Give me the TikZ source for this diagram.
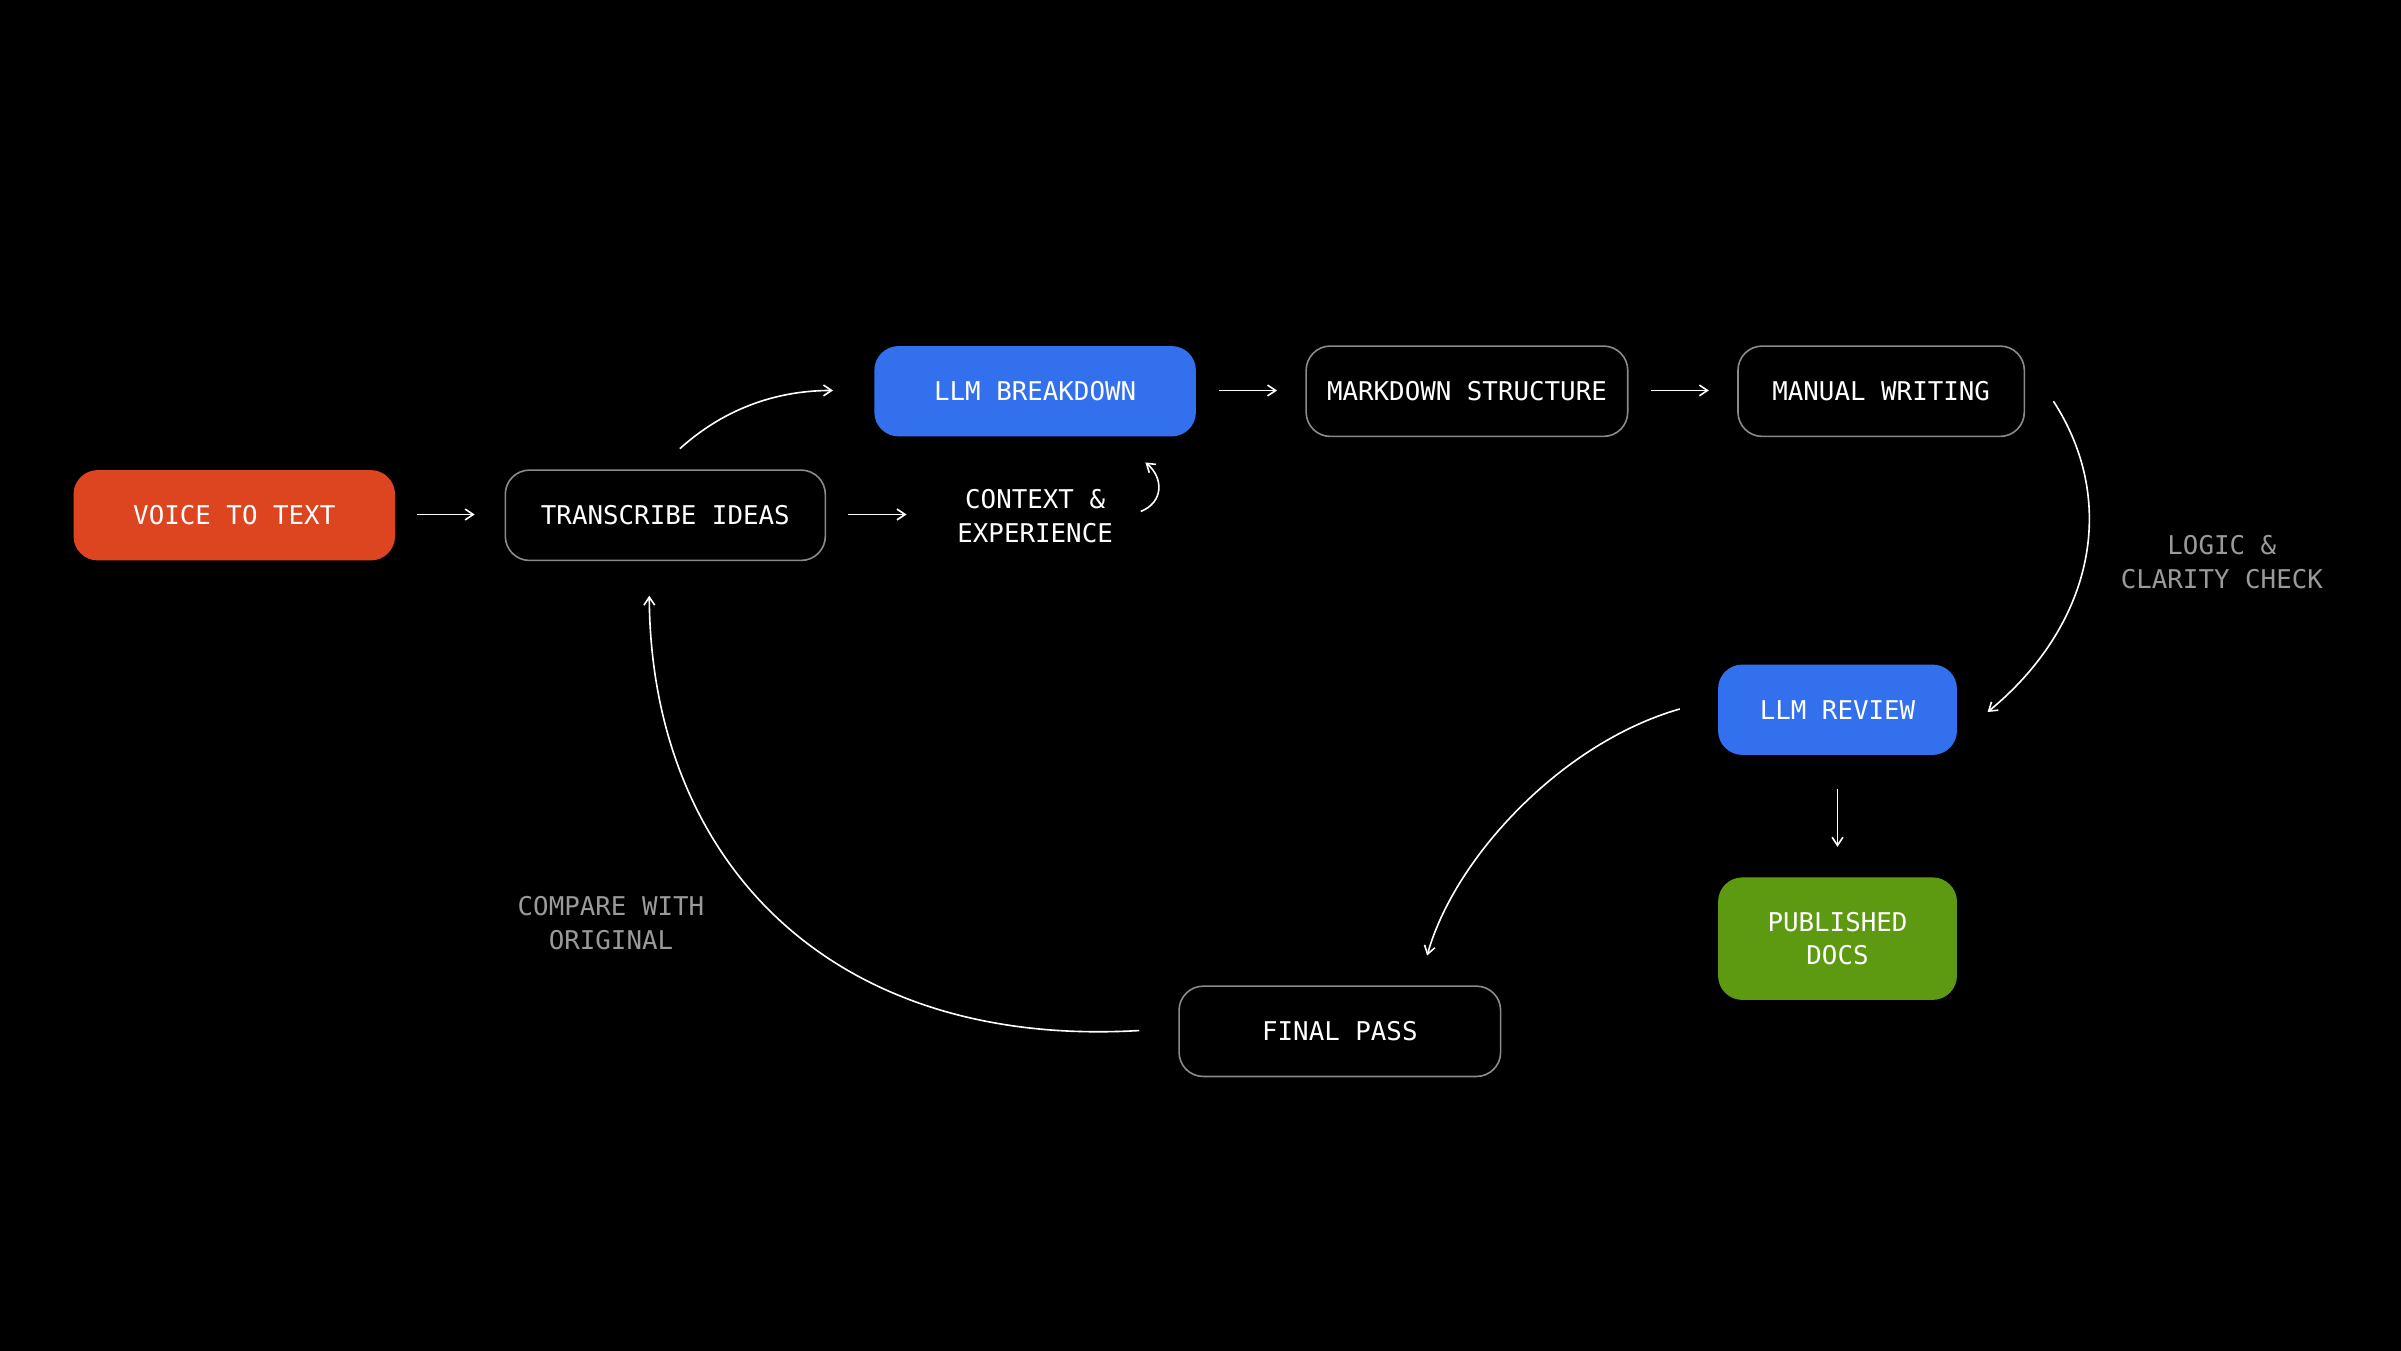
\documentclass[tikz,border=0pt]{standalone}
\usepackage{fontspec}
\setmonofont{DejaVu Sans Mono}
\usetikzlibrary{arrows.meta}
\definecolor{bgc}{HTML}{000000}
\definecolor{orng}{HTML}{DD4420}
\definecolor{blu}{HTML}{3370EE}
\definecolor{grn}{HTML}{5E9912}
\definecolor{edge}{HTML}{8A8A8A}
\definecolor{lbl}{HTML}{9A9A9A}
\tikzset{
  box/.style={rounded corners=9pt, minimum height=59*0.02cm, text=white, font=\ttfamily\fontsize{9.6}{12}\selectfont, align=center, inner sep=0pt},
  outl/.style={box, draw=edge, line width=0.6pt, fill=black},
  filled/.style={box},
  lab/.style={font=\ttfamily\fontsize{9.6}{12.5}\selectfont, align=center},
  con/.style={draw=white, line width=0.6pt, -{Straight Barb[length=3pt,width=4pt]}}
}
\begin{document}
\begin{tikzpicture}[x=0.02cm,y=-0.02cm]
\fill[black] (0,0) rectangle (1568,882);
\useasboundingbox (0,0) rectangle (1568,882);
\node[filled, fill=orng, minimum width=210*0.02cm] (voice) at (153,336.5) {VOICE TO TEXT};
\node[outl, minimum width=209*0.02cm] (trans) at (434.5,336.5) {TRANSCRIBE IDEAS};
\node[filled, fill=blu, minimum width=210*0.02cm] (llmb) at (676,255.5) {LLM BREAKDOWN};
\node[outl, minimum width=210*0.02cm] (md) at (958,255.5) {MARKDOWN STRUCTURE};
\node[outl, minimum width=187*0.02cm] (man) at (1228.5,255.5) {MANUAL WRITING};
\node[filled, fill=blu, minimum width=156*0.02cm] (llmr) at (1200,463.5) {LLM REVIEW};
\node[filled, fill=grn, minimum width=156*0.02cm, minimum height=80*0.02cm] (pub) at (1200,613) {PUBLISHED\\DOCS};
\node[outl, minimum width=210*0.02cm] (fin) at (875,673.5) {FINAL PASS};
\node[lab, text=white] (ctx) at (676,337) {CONTEXT \&\\EXPERIENCE};
\node[lab, text=lbl] (logic) at (1451,367) {LOGIC \&\\CLARITY CHECK};
\node[lab, text=lbl] (cmp) at (399,603) {COMPARE WITH\\ORIGINAL};
\coordinate (a1) at (272,336); \coordinate (a2) at (310,336);
\coordinate (b1) at (554,336); \coordinate (b2) at (592,336);
\coordinate (c1) at (444,293); \coordinate (c2) at (544,255);
\coordinate (d1) at (745,334); \coordinate (d2) at (748,302);
\coordinate (e1) at (796,255); \coordinate (e2) at (834,255);
\coordinate (f1) at (1078,255); \coordinate (f2) at (1116,255);
\coordinate (g1) at (1341,262); \coordinate (g2) at (1298,465);
\coordinate (h1) at (1097,463); \coordinate (h2) at (932,624);
\coordinate (i1) at (1200,515); \coordinate (i2) at (1200,553);
\coordinate (j1) at (744,673); \coordinate (j2) at (424,389);
\draw[con] (a1) -- (a2);
\draw[con] (b1) -- (b2);
\draw[con] (c1) .. controls (475,265) and (510,255) .. (c2);
\draw[con] (d1) .. controls (760,328) and (760,312) .. (d2);
\draw[con] (e1) -- (e2);
\draw[con] (f1) -- (f2);
\draw[con] (g1) .. controls (1385,330) and (1365,410) .. (g2);
\draw[con] (h1) .. controls (1020,485) and (950,560) .. (h2);
\draw[con] (i1) -- (i2);
\draw[con] (j1) .. controls (540,685) and (425,560) .. (j2);
\end{tikzpicture}
\end{document}
